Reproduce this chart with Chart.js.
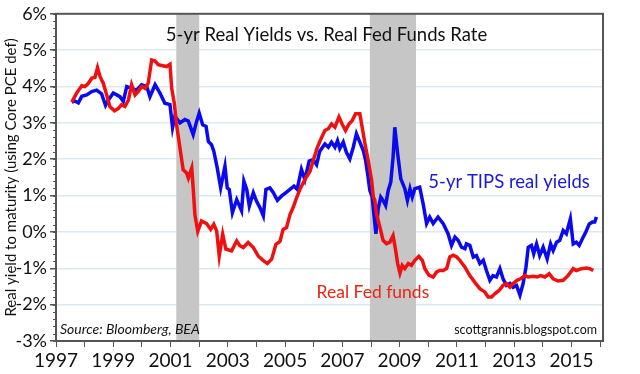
<!DOCTYPE html>
<html lang="en">
<head>
    <meta charset="UTF-8">
    <title>5-yr Real Yields vs. Real Fed Funds Rate</title>
    <script src="https://cdn.jsdelivr.net/npm/chart.js"></script>
    <style>
        html, body { margin: 0; padding: 0; background: #fff; }
        .chart-container { width: 640px; height: 374px; position: relative; }
    </style>
</head>
<body>
    <div class="chart-container">
        <canvas id="yieldChart"></canvas>
    </div>

    <script>
        // 5-yr TIPS real yields
        const tipsYears = [
            1997.55, 1997.66, 1997.78, 1997.90, 1998.07, 1998.25, 1998.42, 1998.59, 1998.73, 1998.83,
            1999.00, 1999.12, 1999.23, 1999.35, 1999.47, 1999.64, 1999.81, 1999.99, 2000.17, 2000.28,
            2000.46, 2000.63, 2000.80, 2000.98, 2001.07, 2001.15, 2001.33, 2001.50, 2001.62, 2001.79,
            2001.91, 2002.00, 2002.12, 2002.24, 2002.32, 2002.43, 2002.51, 2002.63, 2002.75, 2002.90,
            2002.98, 2003.05, 2003.16, 2003.31, 2003.48, 2003.56, 2003.66, 2003.75, 2003.89, 2004.00,
            2004.12, 2004.24, 2004.33, 2004.47, 2004.59, 2004.73, 2004.88, 2005.03, 2005.17, 2005.31,
            2005.42, 2005.57, 2005.69, 2005.84, 2005.98, 2006.10, 2006.21, 2006.39, 2006.51, 2006.62,
            2006.74, 2006.83, 2006.91, 2007.03, 2007.14, 2007.26, 2007.38, 2007.49, 2007.61, 2007.73,
            2007.81, 2007.88, 2007.96, 2008.04, 2008.11, 2008.17, 2008.25, 2008.34, 2008.42, 2008.51,
            2008.60, 2008.69, 2008.77, 2008.83, 2008.93, 2009.04, 2009.18, 2009.27, 2009.36, 2009.44,
            2009.53, 2009.70, 2009.82, 2009.94, 2010.05, 2010.17, 2010.34, 2010.52, 2010.69, 2010.81,
            2010.93, 2011.04, 2011.16, 2011.28, 2011.33, 2011.45, 2011.57, 2011.68, 2011.80, 2011.92,
            2012.03, 2012.15, 2012.26, 2012.38, 2012.50, 2012.61, 2012.73, 2012.85, 2012.96, 2013.08,
            2013.20, 2013.31, 2013.41, 2013.49, 2013.60, 2013.68, 2013.78, 2013.89, 2014.01, 2014.15,
            2014.27, 2014.36, 2014.48, 2014.59, 2014.71, 2014.82, 2014.96, 2015.06, 2015.17, 2015.27,
            2015.38, 2015.50, 2015.62, 2015.73, 2015.81, 2015.87
        ];
        const tipsValues = [
            3.57, 3.60, 3.55, 3.73, 3.77, 3.86, 3.90, 3.80, 3.48, 3.63,
            3.82, 3.77, 3.72, 3.59, 4.00, 3.95, 3.90, 4.05, 4.00, 3.72,
            4.05, 3.82, 3.54, 3.50, 2.87, 3.18, 3.00, 3.09, 3.05, 2.68,
            3.04, 3.27, 2.95, 2.90, 2.49, 2.40, 2.22, 1.76, 1.21, 1.81,
            1.21, 1.17, 0.53, 0.89, 0.58, 1.40, 1.17, 0.71, 1.08, 0.85,
            0.67, 0.44, 1.17, 1.21, 1.08, 0.87, 0.99, 1.08, 1.17, 1.26,
            1.17, 1.72, 1.44, 1.95, 1.99, 1.85, 2.22, 2.42, 2.33, 2.47,
            2.33, 2.51, 2.29, 2.47, 2.19, 2.01, 2.33, 2.70, 2.47, 2.24,
            1.97, 1.60, 1.14, 0.96, 0.41, -0.05, 0.64, 0.96, 0.87, 0.73,
            1.14, 1.37, 2.06, 2.88, 2.15, 1.46, 1.19, 0.87, 1.19, 0.96,
            1.19, 1.23, 0.77, 0.23, 0.41, 0.23, 0.41, 0.23, -0.05, -0.37,
            -0.14, -0.23, -0.42, -0.46, -0.33, -0.37, -0.69, -0.65, -0.87, -0.78,
            -1.06, -1.33, -1.20, -1.24, -1.01, -1.29, -1.47, -1.42, -1.52, -1.47,
            -1.74, -1.42, -0.97, -0.42, -0.37, -0.60, -0.33, -0.65, -0.42, -0.74,
            -0.33, -0.51, -0.28, -0.23, 0.04, -0.05, 0.36, -0.33, -0.28, -0.37,
            -0.19, 0.00, 0.22, 0.27, 0.27, 0.41
        ];

        // Real Fed funds rate
        const fedYears = [
            1997.55, 1997.72, 1997.90, 1998.01, 1998.13, 1998.25, 1998.36, 1998.45, 1998.54, 1998.65,
            1998.77, 1998.88, 1999.04, 1999.18, 1999.29, 1999.41, 1999.53, 1999.64, 1999.76, 1999.87,
            1999.99, 2000.11, 2000.22, 2000.34, 2000.46, 2000.57, 2000.69, 2000.86, 2000.98, 2001.04,
            2001.13, 2001.21, 2001.33, 2001.44, 2001.56, 2001.62, 2001.74, 2001.79, 2001.85, 2001.95,
            2002.08, 2002.26, 2002.40, 2002.51, 2002.61, 2002.70, 2002.82, 2002.93, 2003.13, 2003.31,
            2003.42, 2003.54, 2003.71, 2003.89, 2004.06, 2004.24, 2004.38, 2004.53, 2004.68, 2004.82,
            2004.93, 2005.05, 2005.17, 2005.28, 2005.40, 2005.54, 2005.69, 2005.87, 2006.01, 2006.12,
            2006.24, 2006.39, 2006.51, 2006.62, 2006.74, 2006.88, 2006.99, 2007.11, 2007.23, 2007.34,
            2007.46, 2007.61, 2007.69, 2007.79, 2007.90, 2008.02, 2008.08, 2008.13, 2008.19, 2008.31,
            2008.42, 2008.54, 2008.66, 2008.77, 2008.86, 2008.93, 2009.01, 2009.09, 2009.18, 2009.30,
            2009.41, 2009.53, 2009.67, 2009.79, 2009.88, 2010.02, 2010.17, 2010.29, 2010.40, 2010.52,
            2010.64, 2010.75, 2010.87, 2010.99, 2011.10, 2011.28, 2011.45, 2011.62, 2011.80, 2011.97,
            2012.09, 2012.21, 2012.32, 2012.47, 2012.61, 2012.73, 2012.85, 2012.96, 2013.10, 2013.22,
            2013.37, 2013.49, 2013.66, 2013.80, 2013.92, 2014.07, 2014.22, 2014.36, 2014.53, 2014.71,
            2014.88, 2015.06, 2015.17, 2015.35, 2015.52, 2015.64, 2015.76
        ];
        const fedValues = [
            3.57, 3.82, 4.02, 4.00, 4.09, 4.23, 4.25, 4.52, 4.27, 4.09,
            3.77, 3.45, 3.33, 3.40, 3.50, 3.45, 3.63, 4.05, 3.77, 3.86,
            4.00, 3.95, 4.09, 4.73, 4.70, 4.60, 4.58, 4.55, 4.61, 3.95,
            3.54, 2.95, 2.30, 1.71, 1.62, 1.48, 1.76, 1.21, 0.47, 0.02,
            0.30, 0.23, 0.07, 0.21, 0.03, -0.66, -0.06, -0.47, -0.52, -0.25,
            -0.38, -0.43, -0.29, -0.43, -0.66, -0.79, -0.87, -0.75, -0.34, -0.26,
            0.07, 0.12, 0.48, 0.67, 0.94, 1.21, 1.44, 1.67, 2.04, 2.31,
            2.54, 2.79, 2.84, 2.97, 2.88, 3.16, 2.97, 2.79, 2.97, 3.06,
            3.25, 3.25, 2.88, 2.42, 1.97, 1.42, 0.96, 0.87, 0.50, 0.13,
            -0.23, -0.32, -0.28, -0.10, -0.51, -0.87, -1.13, -0.92, -1.01, -0.87,
            -0.92, -0.78, -0.67, -0.78, -1.01, -1.19, -1.24, -1.10, -1.06, -1.06,
            -1.01, -0.69, -0.64, -0.69, -0.78, -0.97, -1.20, -1.38, -1.56, -1.65,
            -1.79, -1.79, -1.70, -1.61, -1.47, -1.42, -1.52, -1.42, -1.33, -1.29,
            -1.20, -1.24, -1.22, -1.24, -1.20, -1.24, -1.15, -1.29, -1.35, -1.33,
            -1.20, -1.01, -1.06, -1.01, -0.99, -1.01, -1.06
        ];

        // recession shading (start, end)
        const recessions = [[2001.2, 2002.0], [2007.96, 2009.57]];

        const yTicks = [-3, -2, -1, 0, 1, 2, 3, 4, 5, 6];

        const toPoints = (xs, ys) => xs.map((x, i) => ({ x: x, y: ys[i] }));

        const FONT = 'Lato, "Open Sans", sans-serif';

        // grey recession bars behind the lines
        const recessionPlugin = {
            id: 'recessions',
            beforeDatasetsDraw(chart) {
                const { ctx, chartArea, scales } = chart;
                ctx.save();
                ctx.fillStyle = '#c6c6c6';
                recessions.forEach(([a, b]) => {
                    const x1 = scales.x.getPixelForValue(a);
                    const x2 = scales.x.getPixelForValue(b);
                    ctx.fillRect(x1, chartArea.top, x2 - x1, chartArea.bottom - chartArea.top);
                });
                ctx.restore();
            }
        };

        // frame, minor ticks, title and text notes
        const decorPlugin = {
            id: 'decor',
            afterDraw(chart) {
                const { ctx, chartArea, scales } = chart;
                const x = scales.x, y = scales.y;
                ctx.save();

                // minor ticks on the y axis
                ctx.strokeStyle = '#555';
                ctx.lineWidth = 1;
                for (let v = -3; v <= 6.001; v += 0.2) {
                    const py = Math.round(y.getPixelForValue(v)) + 0.5;
                    ctx.beginPath();
                    ctx.moveTo(chartArea.left - 3, py);
                    ctx.lineTo(chartArea.left, py);
                    ctx.stroke();
                }

                // box
                ctx.strokeStyle = '#555';
                ctx.lineWidth = 2;
                ctx.strokeRect(chartArea.left, chartArea.top, chartArea.right - chartArea.left, chartArea.bottom - chartArea.top);

                // title
                ctx.fillStyle = '#111';
                ctx.font = '18.5px ' + FONT;
                ctx.textAlign = 'center';
                ctx.textBaseline = 'middle';
                ctx.fillText('5-yr Real Yields vs. Real Fed Funds Rate', (chartArea.left + chartArea.right) / 2 - 3, chartArea.top + 21);

                // series labels
                ctx.textAlign = 'left';
                ctx.font = '18.5px ' + FONT;
                ctx.fillStyle = '#1a1ad6';
                ctx.fillText('5-yr TIPS real yields', x.getPixelForValue(2010), y.getPixelForValue(1.36));
                ctx.font = '17.5px ' + FONT;
                ctx.fillStyle = '#ee2211';
                ctx.fillText('Real Fed funds', x.getPixelForValue(2006.1), y.getPixelForValue(-1.66));

                // source + blog
                ctx.fillStyle = '#111';
                ctx.font = 'italic 14px ' + FONT;
                ctx.fillText('Source: Bloomberg, BEA', chartArea.left + 4, chartArea.bottom - 12);
                ctx.font = '12.5px ' + FONT;
                ctx.textAlign = 'right';
                ctx.fillText('scottgrannis.blogspot.com', chartArea.right - 6, chartArea.bottom - 11);

                ctx.restore();
            }
        };

        const ctx = document.getElementById('yieldChart').getContext('2d');
        new Chart(ctx, {
            type: 'line',
            data: {
                datasets: [
                    {
                        label: 'Real Fed funds',
                        data: toPoints(fedYears, fedValues),
                        borderColor: '#f01010',
                        borderWidth: 3.5,
                        pointRadius: 0,
                        tension: 0
                    },
                    {
                        label: '5-yr TIPS real yields',
                        data: toPoints(tipsYears, tipsValues),
                        borderColor: '#0a0af0',
                        borderWidth: 3.5,
                        pointRadius: 0,
                        tension: 0
                    }
                ]
            },
            options: {
                responsive: true,
                maintainAspectRatio: false,
                animation: false,
                layout: { padding: { top: 13, right: 37, left: 0, bottom: 0 } },
                plugins: {
                    legend: { display: false },
                    tooltip: { enabled: false }
                },
                scales: {
                    x: {
                        type: 'linear',
                        min: 1997,
                        max: 2016.1,
                        afterFit: (s) => { s.height = 33; },
                        grid: {
                            drawOnChartArea: false,
                            tickLength: 6,
                            tickColor: '#555'
                        },
                        border: { color: '#555', width: 2 },
                        ticks: {
                            stepSize: 1,
                            includeBounds: false,
                            autoSkip: false,
                            maxRotation: 0,
                            padding: 2,
                            color: '#111',
                            font: { family: FONT, size: 19 },
                            callback: (v) => (v % 2 === 1 ? String(v) : '')
                        }
                    },
                    y: {
                        min: -3,
                        max: 6,
                        afterFit: (s) => { s.width = 56; },
                        afterBuildTicks: (s) => { s.ticks = yTicks.map(v => ({ value: v })); },
                        grid: {
                            color: (c) => (c.tick && (c.tick.value === 6 || c.tick.value === -3) ? 'rgba(0,0,0,0)' : '#dce9f2'),
                            lineWidth: 1.5,
                            tickLength: 6,
                            tickColor: '#555'
                        },
                        border: { color: '#555', width: 2 },
                        title: {
                            display: true,
                            text: 'Real yield to maturity (using Core PCE def)',
                            color: '#111',
                            font: { family: FONT, size: 15 },
                            padding: { top: 2, bottom: 0 }
                        },
                        ticks: {
                            padding: 3,
                            color: '#111',
                            font: { family: FONT, size: 18 },
                            callback: (v) => v + '%'
                        }
                    }
                }
            },
            plugins: [recessionPlugin, decorPlugin]
        });
    </script>
</body>
</html>
